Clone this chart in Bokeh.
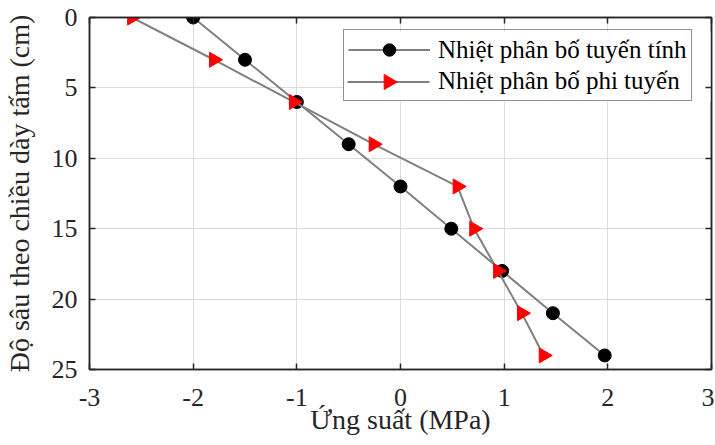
import math
from bokeh.plotting import figure
from bokeh.models import Range1d, LinearAxis, FixedTicker, Legend, LegendItem
from bokeh.embed import file_html
from bokeh.resources import INLINE

depth = [0, 3, 6, 9, 12, 15, 18, 21, 24]
stress_linear = [-2.0, -1.5, -1.0, -0.5, 0.0, 0.49, 0.98, 1.47, 1.97]
stress_nonlinear = [-2.59, -1.80, -1.03, -0.26, 0.55, 0.71, 0.94, 1.17, 1.38]
label_linear = "Nhiệt phân bố tuyến tính"
label_nonlinear = "Nhiệt phân bố phi tuyến"
x_ticks = [-3, -2, -1, 0, 1, 2, 3]
y_ticks = [0, 5, 10, 15, 20, 25]

FONT = "Liberation Serif"
DARK = "#262626"
LINE = "#808080"

# layout (pixels)
W, H = 714, 444
ML, MR, MT, MB = 89, 3, 17, 75
FW, FH = W - ML - MR, H - MT - MB
X0, X1, Y0, Y1 = -3, 3, 25, 0


def px_to_x(px):
    return X0 + px / FW * (X1 - X0)


def py_to_y(py):
    return Y1 + py / FH * (Y0 - Y1)


p = figure(width=W, height=H, output_backend="svg", toolbar_location=None,
           x_range=Range1d(X0, X1), y_range=Range1d(Y0, Y1),
           min_border_left=ML, min_border_right=MR, min_border_top=MT, min_border_bottom=MB)
p.outline_line_color = DARK
p.outline_line_width = 1.5

for ax in [p.xaxis[0], p.yaxis[0]]:
    ax.major_label_text_font = FONT
    ax.major_label_text_font_size = "26px"
    ax.major_label_text_color = DARK
    ax.axis_label_text_font = FONT
    ax.axis_label_text_font_size = "28px"
    ax.axis_label_text_font_style = "normal"
    ax.axis_label_text_color = DARK
    ax.major_tick_in = 6
    ax.major_tick_out = 0
    ax.minor_tick_line_color = None
    ax.axis_line_color = DARK
    ax.axis_line_width = 1.5
    ax.major_tick_line_color = DARK
    ax.major_tick_line_width = 1.5

p.xaxis[0].ticker = FixedTicker(ticks=x_ticks)
p.yaxis[0].ticker = FixedTicker(ticks=y_ticks)
p.xaxis[0].major_label_overrides = {t: str(t) for t in x_ticks}
p.yaxis[0].major_label_overrides = {t: str(t) for t in y_ticks}
p.xaxis[0].axis_label = "Ứng suất (MPa)"
p.yaxis[0].axis_label = "Độ sâu theo chiều dày tấm (cm)"
p.xaxis[0].major_label_standoff = 19
p.yaxis[0].major_label_standoff = 12
p.xaxis[0].axis_label_standoff = -5
p.yaxis[0].axis_label_standoff = 14

for loc, tk in [("above", x_ticks), ("right", y_ticks)]:
    a = LinearAxis(ticker=FixedTicker(ticks=tk), major_label_text_font_size="0px",
                   major_tick_in=6, major_tick_out=0, minor_tick_line_color=None,
                   axis_line_color=DARK, axis_line_width=1.5,
                   major_tick_line_color=DARK, major_tick_line_width=1.5,
                   major_label_standoff=0)
    p.add_layout(a, loc)

p.xgrid.ticker = FixedTicker(ticks=x_ticks)
p.ygrid.ticker = FixedTicker(ticks=y_ticks)
p.grid.grid_line_color = "#dcdcdc"
p.grid.grid_line_width = 1

# legend geometry (pixels, relative to frame top-left)
LEG_LEFT, LEG_TOP = 254, 14
PAD, GW, GH = 4, 82, 31
leg_h = 2 * PAD + 2 * GH

# white panel under the (transparent) legend, hides grid lines there
p.quad(left=[px_to_x(LEG_LEFT)], right=[X1], top=[py_to_y(LEG_TOP)],
       bottom=[py_to_y(LEG_TOP + leg_h)], fill_color="white", line_color=None)

l1 = p.line(stress_linear, depth, line_color=LINE, line_width=2)
s1 = p.scatter(stress_linear, depth, marker="circle", size=13, fill_color="black", line_color="black")
l2 = p.line(stress_nonlinear, depth, line_color=LINE, line_width=2)
s2 = p.scatter(stress_nonlinear, depth, marker="triangle", size=15, angle=-math.pi / 2,
               fill_color="red", line_color="red")

# key of the second legend row: line + right-pointing triangle
ky = py_to_y(LEG_TOP + PAD + GH + GH / 2)
kx0 = px_to_x(LEG_LEFT + PAD)
kx1 = px_to_x(LEG_LEFT + PAD + GW)
p.line([kx0, kx1], [ky, ky], line_color=LINE, line_width=2)
p.scatter([(kx0 + kx1) / 2], [ky], marker="triangle", size=15, angle=-math.pi / 2,
          fill_color="red", line_color="red")
blank = p.line([], [], line_alpha=0)

legend = Legend(items=[LegendItem(label=label_linear, renderers=[l1, s1]),
                       LegendItem(label=label_nonlinear, renderers=[blank])],
                location=(LEG_LEFT, FH - LEG_TOP - leg_h),
                label_text_font=FONT, label_text_font_size="25px",
                label_text_color="black", border_line_color=DARK, border_line_width=1.5,
                background_fill_alpha=0,
                glyph_width=GW, glyph_height=GH, spacing=0, padding=PAD, margin=0,
                label_standoff=8, label_height=GH)
p.add_layout(legend)

open("out.html", "w").write(file_html(p, INLINE))
